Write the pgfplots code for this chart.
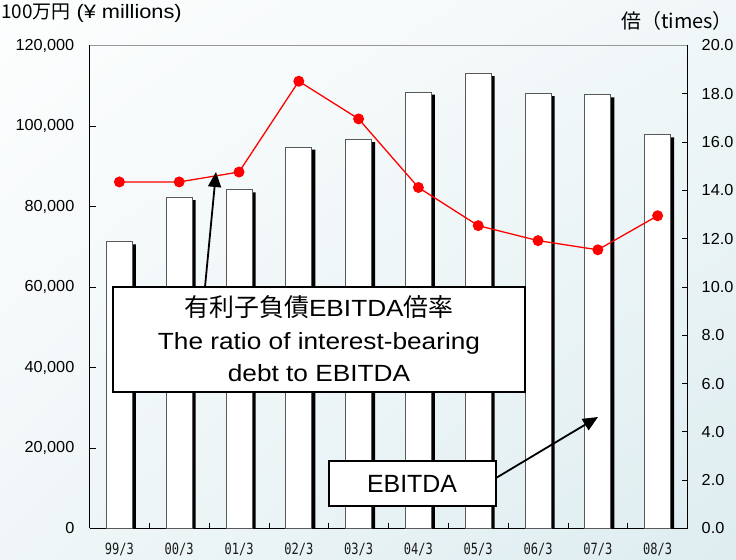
\documentclass[border=0pt]{standalone}
\usepackage{fontspec}
\setmainfont{Liberation Sans}
\newfontfamily\cjk{Noto Sans CJK JP}
\newfontfamily\wide[FakeStretch=1.12]{Liberation Sans}
\newfontfamily\tickf[FakeStretch=1.02]{Liberation Sans}
\newfontfamily\monof[FakeStretch=0.78]{DejaVu Sans Mono}
\usepackage{pgfplots}
\pgfplotsset{compat=1.18}
\usetikzlibrary{arrows.meta,shadings}
\definecolor{bgUL}{HTML}{FDFEFE}
\definecolor{bgUR}{HTML}{F1F7F8}
\definecolor{bgLL}{HTML}{F0F6F8}
\definecolor{bgLR}{HTML}{DDEDF0}
\begin{document}
\begin{tikzpicture}[x=1bp,y=1bp]
\path[use as bounding box] (0,0) rectangle (736,560);
\shade[upper left=bgUL, upper right=bgUR, lower left=bgLL, lower right=bgLR] (0,0) rectangle (736,560);
\begin{axis}[
  at={(89.5bp,31.5bp)}, anchor=south west,
  width=598bp, height=483bp, scale only axis,
  xmin=-0.5, xmax=9.5, ymin=0, ymax=120000,
  axis x line*=bottom, axis y line*=left,
  axis line style={black, line width=1.3bp},
  xtick={0,...,9},
  xticklabels={99/3,00/3,01/3,02/3,03/3,04/3,05/3,06/3,07/3,08/3},
  major x tick style={draw=none},
  minor xtick={0.5,1.5,2.5,3.5,4.5,5.5,6.5,7.5,8.5},
  minor x tick style={black, line width=0.8bp},
  minor tick length=5bp,
  tick align=inside, major tick length=6bp,
  ytick={0,20000,40000,60000,80000,100000,120000},
  yticklabels={0,{20,000},{40,000},{60,000},{80,000},{100,000},{120,000}},
  scaled y ticks=false,
  y tick style={black, line width=0.8bp},
  yticklabel style={font=\tickf\fontsize{16}{19}\selectfont, anchor=east, inner sep=0pt, xshift=-15bp},
  xticklabel style={font=\monof\fontsize{15.5}{18}\selectfont, text=black!90, anchor=north, inner sep=0pt, yshift=-14bp},
]
\addplot[ybar, bar width=26bp, bar shift=3.5bp, fill=black, draw=none]
  coordinates {(0,70600) (1,81600) (2,83500) (3,94100) (4,96000) (5,107800) (6,112400) (7,107400) (8,107100) (9,97200)};
\addplot[ybar, bar width=26bp, bar shift=0bp, fill=white, draw=black!65, line width=1bp]
  coordinates {(0,71200) (1,82200) (2,84100) (3,94700) (4,96600) (5,108400) (6,113000) (7,108000) (8,107700) (9,97800)};
\end{axis}
\begin{axis}[
  at={(89.5bp,31.5bp)}, anchor=south west,
  width=598bp, height=483bp, scale only axis,
  xmin=-0.5, xmax=9.5, ymin=0, ymax=20,
  axis x line*=top, axis y line*=right,
  x axis line style={draw=black!40, line width=0.8bp},
  y axis line style={black, line width=1.3bp},
  xtick=\empty,
  ytick={0,2,4,6,8,10,12,14,16,18,20},
  yticklabels={0.0,2.0,4.0,6.0,8.0,10.0,12.0,14.0,16.0,18.0,20.0},
  tick align=inside, major tick length=6bp,
  y tick style={black, line width=0.8bp},
  yticklabel style={font=\tickf\fontsize{16}{19}\selectfont, anchor=west, inner sep=0pt, xshift=14bp},
]
\addplot[red, line width=1.3bp, mark=*, mark size=4.8bp, mark options={fill=red, draw=red}]
  coordinates {(0,14.35) (1,14.35) (2,14.76) (3,18.52) (4,16.96) (5,14.12) (6,12.54) (7,11.92) (8,11.54) (9,12.95)};
\end{axis}
% titles
\node[anchor=base west, inner sep=0pt] at (1,541) {{\cjk\fontsize{19}{23}\selectfont 100万円}\hspace{6bp}{\wide\fontsize{19.5}{23}\selectfont (¥ millions)}};
\node[anchor=base east, inner sep=0pt] at (733,531) {\cjk\fontsize{20}{24}\selectfont 倍（times）};
% annotation boxes
\draw[line width=1.8bp, -{Triangle[length=15bp, width=13bp]}] (205,273) -- (216,388);
\draw[line width=1.5bp, fill=white] (113,168) rectangle (525,273);
\node[anchor=base, inner sep=0pt] at (319,243) {{\cjk\fontsize{25}{30}\selectfont 有利子負債}{\wide\fontsize{23.5}{28}\selectfont EBITDA}{\cjk\fontsize{25}{30}\selectfont 倍率}};
\node[anchor=base, inner sep=0pt] at (319,210) {\wide\fontsize{23.5}{28}\selectfont The ratio of interest-bearing};
\node[anchor=base, inner sep=0pt] at (319,178) {\wide\fontsize{23.5}{28}\selectfont debt to EBITDA};
\draw[line width=1.8bp, -{Triangle[length=15bp, width=13bp]}] (496,82) -- (598,143);
\draw[line width=1.5bp, fill=white] (329,54) rectangle (496,99);
\node[anchor=base, inner sep=0pt] at (412,67) {\fontsize{25}{30}\selectfont EBITDA};
\end{tikzpicture}
\end{document}
